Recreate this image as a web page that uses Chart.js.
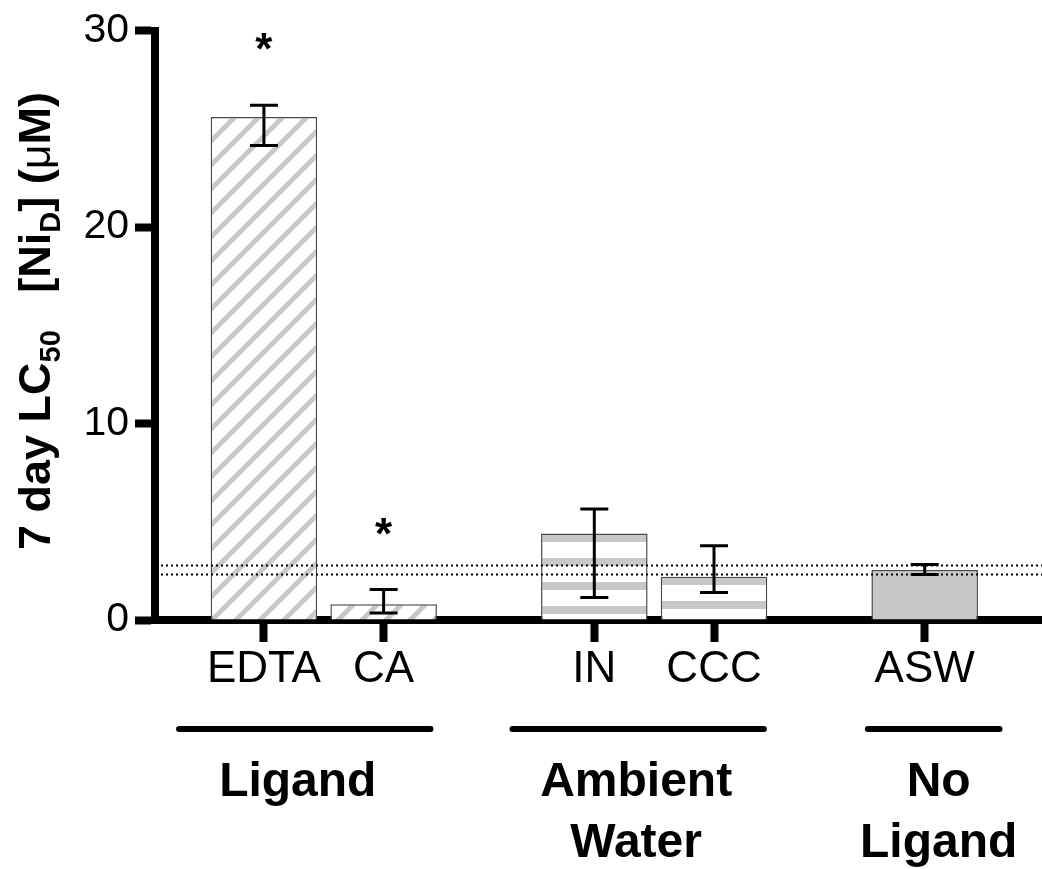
<!DOCTYPE html>
<html><head><meta charset="utf-8">
<script src="https://cdn.jsdelivr.net/npm/chart.js@4.4.1/dist/chart.umd.min.js"></script>
<style>html,body{margin:0;padding:0;background:#fff}#wrap{width:1042px;height:869px;position:relative}</style>
</head><body><div id="wrap"><canvas id="c" width="1042" height="869"></canvas></div>
<script>
// ---- data ----
const categories = ['EDTA', 'CA', 'IN', 'CCC', 'ASW'];
const groupOf = [0, 0, 1, 1, 2];
const groupNames = [['Ligand'], ['Ambient', 'Water'], ['No', 'Ligand']];
const lc50 = [25.6, 0.8, 4.4, 2.2, 2.55];
const errLow = [24.15, 0.35, 1.15, 1.4, 2.32];
const errHigh = [26.2, 1.55, 5.65, 3.78, 2.82];
const significance = ['*', '*', '', '', ''];
const refLines = [2.82, 2.33];
const yTicks = [0, 10, 20, 30];
const fillKinds = ['diag', 'diag', 'horiz', 'horiz', 'solid'];

// ---- layout / style ----
const GROUP_GAP = 0.76;
const positions = categories.map((c, i) => i + groupOf[i] * GROUP_GAP);
const GRAY = '#c8c8c8';
const FONT = '"Liberation Sans", Arial, Helvetica, sans-serif';

function makePattern(kind) {
  if (kind === 'solid') return GRAY;
  const t = document.createElement('canvas');
  t.width = 24; t.height = 24;
  const g = t.getContext('2d');
  g.fillStyle = '#fff'; g.fillRect(0, 0, 24, 24);
  if (kind === 'diag') {
    g.strokeStyle = GRAY; g.lineWidth = 5;
    for (const c of [0, 24, 48]) {
      g.beginPath(); g.moveTo(c - 30, 30); g.lineTo(c + 6, -6); g.stroke();
    }
  } else {
    g.fillStyle = GRAY; g.fillRect(0, 0, 24, 8);
  }
  return g.createPattern(t, 'repeat');
}
const fills = fillKinds.map(makePattern);

const patternAnchor = {
  id: 'patternAnchor',
  beforeDatasetsDraw(chart) {
    const meta = chart.getDatasetMeta(0);
    meta.data.forEach((bar, i) => {
      const f = fills[i];
      if (f && typeof f !== 'string' && f.setTransform) {
        f.setTransform(new DOMMatrix([1, 0, 0, 1, Math.round(bar.x - bar.width / 2), Math.round(bar.y)]));
      }
    });
  }
};

const overlays = {
  id: 'overlays',
  afterDatasetsDraw(chart) {
    const ctx = chart.ctx, ys = chart.scales.y, area = chart.chartArea;
    const meta = chart.getDatasetMeta(0);
    ctx.save();
    // dotted reference lines
    ctx.strokeStyle = '#000'; ctx.lineWidth = 2.2; ctx.setLineDash([2, 3]);
    refLines.forEach(v => {
      const y = Math.round(ys.getPixelForValue(v)) + 0.5;
      ctx.beginPath(); ctx.moveTo(area.left + 6, y); ctx.lineTo(area.right, y); ctx.stroke();
    });
    ctx.setLineDash([]);
    // error bars
    ctx.lineWidth = 3; ctx.strokeStyle = '#000';
    meta.data.forEach((bar, i) => {
      const x = bar.x, yh = ys.getPixelForValue(errHigh[i]), yl = ys.getPixelForValue(errLow[i]);
      ctx.beginPath();
      ctx.moveTo(x, yh); ctx.lineTo(x, yl);
      ctx.moveTo(x - 14, yh); ctx.lineTo(x + 14, yh);
      ctx.moveTo(x - 14, yl); ctx.lineTo(x + 14, yl);
      ctx.stroke();
      if (significance[i]) {
        ctx.fillStyle = '#000';
        ctx.font = 'bold 44px ' + FONT;
        ctx.textAlign = 'center'; ctx.textBaseline = 'alphabetic';
        ctx.fillText(significance[i], x, yh - 60 + 19);
      }
    });
    ctx.restore();
  },
  afterDraw(chart) {
    const ctx = chart.ctx, xs = chart.scales.x;
    const unit = xs.getPixelForValue(1) - xs.getPixelForValue(0);
    ctx.save();
    // group lines and labels
    const lineOffsets = [-19, -16, 9], labelOffsets = [-26, -18, 14];
    groupNames.forEach((names, g) => {
      const idx = categories.map((c, i) => i).filter(i => groupOf[i] === g);
      const x0 = xs.getPixelForValue(positions[idx[0]]);
      const x1 = xs.getPixelForValue(positions[idx[idx.length - 1]]);
      const cx = (x0 + x1) / 2;
      const half = (x1 - x0) / 2 + 0.55 * unit;
      ctx.strokeStyle = '#000'; ctx.lineWidth = 6; ctx.lineCap = 'round';
      ctx.beginPath();
      ctx.moveTo(cx + lineOffsets[g] - half, 729); ctx.lineTo(cx + lineOffsets[g] + half, 729);
      ctx.stroke();
      ctx.fillStyle = '#000'; ctx.font = 'bold 48px ' + FONT;
      ctx.textAlign = 'center'; ctx.textBaseline = 'alphabetic';
      names.forEach((n, k) => ctx.fillText(n, cx + labelOffsets[g], 796 + k * 61));
    });
    // y axis title with subscripts
    const parts = [['7 day LC', 0], ['50', 1], ['   [Ni', 0], ['D', 1], ['] (', 0], ['μ', 2], ['M)', 0]];
    const fs = 45, sub = 29;
    const fontFor = t => t === 1 ? 'bold ' + sub + 'px ' + FONT : (t === 2 ? (fs - 2) + 'px ' + FONT : 'bold ' + fs + 'px ' + FONT);
    let total = 0;
    parts.forEach(([s, t]) => { ctx.font = fontFor(t); total += ctx.measureText(s).width; });
    ctx.translate(50, 321);
    ctx.rotate(-Math.PI / 2);
    ctx.textBaseline = 'alphabetic'; ctx.textAlign = 'left'; ctx.fillStyle = '#000';
    let x = -total / 2;
    parts.forEach(([s, t]) => {
      ctx.font = fontFor(t);
      ctx.fillText(s, x, t === 1 ? 10 : 0);
      x += ctx.measureText(s).width;
    });
    ctx.restore();
  }
};

new Chart(document.getElementById('c'), {
  type: 'bar',
  data: {
    datasets: [{
      data: categories.map((c, i) => ({ x: positions[i], y: lc50[i] })),
      backgroundColor: fills,
      borderColor: '#4a4a4a',
      borderWidth: 1.5,
      borderSkipped: 'start',
      barPercentage: 0.89,
      categoryPercentage: 1.0
    }]
  },
  options: {
    responsive: false,
    devicePixelRatio: 1,
    animation: false,
    layout: { padding: { top: 27, right: 0, bottom: 0, left: 0 } },
    plugins: { legend: { display: false }, tooltip: { enabled: false } },
    scales: {
      x: {
        type: 'linear',
        offset: false,
        min: -0.91, max: 6.5,
        afterBuildTicks: s => { s.ticks = positions.map(v => ({ value: v })); },
        afterFit: s => { s.height = 249; },
        border: { display: true, color: '#000', width: 8 },
        grid: { offset: false, drawOnChartArea: false, drawTicks: true, tickLength: 22, tickWidth: 8, tickColor: '#000', color: '#000' },
        ticks: {
          autoSkip: false, maxRotation: 0, padding: 1,
          color: '#000', font: { family: FONT, size: 44 },
          callback: (v, i) => categories[i]
        }
      },
      y: {
        min: 0, max: 30,
        afterBuildTicks: s => { s.ticks = yTicks.map(v => ({ value: v })); },
        afterFit: s => { s.width = 155; },
        border: { display: true, color: '#000', width: 8 },
        grid: { drawOnChartArea: false, drawTicks: true, tickLength: 20, tickWidth: 8, tickColor: '#000', color: '#000' },
        ticks: { padding: 6, color: '#000', font: { family: FONT, size: 41 } }
      }
    }
  },
  plugins: [patternAnchor, overlays]
});
</script></body></html>
